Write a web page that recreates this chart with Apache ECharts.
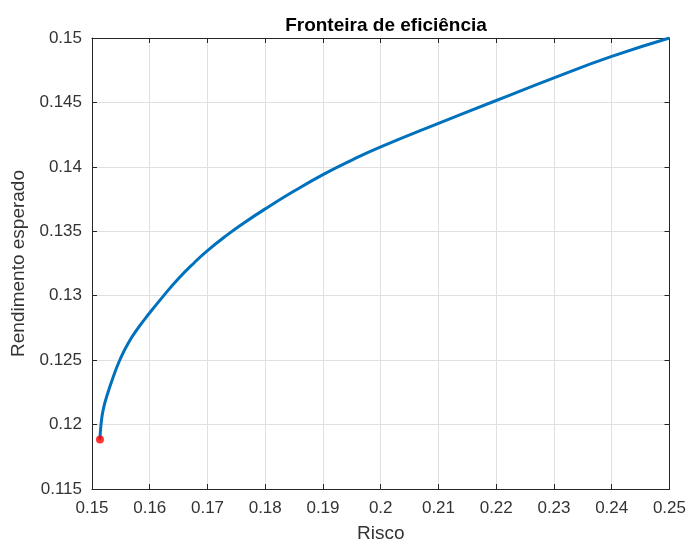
<!DOCTYPE html>
<html>
<head>
<meta charset="utf-8">
<script src="https://cdn.jsdelivr.net/npm/echarts@6/dist/echarts.min.js"></script>
<style>
html,body{margin:0;padding:0;background:#fff;}
#chart{width:689px;height:548px;}
</style>
</head>
<body>
<div id="chart"></div>
<script>
const titleText = 'Fronteira de eficiência';
const xName = 'Risco';
const yName = 'Rendimento esperado';

const risk = [0.15138, 0.15156, 0.15196, 0.15275, 0.15372, 0.15484, 0.15627, 0.15800, 0.15990,
              0.16231, 0.16491, 0.16779, 0.17000, 0.17354, 0.17585, 0.18000, 0.18500, 0.19000,
              0.19500, 0.20000, 0.21000, 0.22000, 0.23000, 0.24000, 0.25000];
const expectedReturn = [0.11884, 0.12000, 0.12120, 0.12247, 0.12375, 0.12503, 0.12631, 0.12750, 0.12862,
              0.12995, 0.13130, 0.13260, 0.13350, 0.13476, 0.13551, 0.13674, 0.13812, 0.13940,
              0.14053, 0.14155, 0.14338, 0.14515, 0.14691, 0.14857, 0.15000];

const minVariancePoint = [0.15138, 0.11884];

const xTicks = [0.15, 0.16, 0.17, 0.18, 0.19, 0.2, 0.21, 0.22, 0.23, 0.24, 0.25];
const yTicks = [0.115, 0.12, 0.125, 0.13, 0.135, 0.14, 0.145, 0.15];

const FONT = '"Liberation Sans", Arial, Helvetica, sans-serif';
const AX = '#262626';
const TXT = '#333333';

const lineData = risk.map((r, i) => [r, expectedReturn[i]]);

const xStep = +(xTicks[1] - xTicks[0]).toFixed(6);
const yStep = +(yTicks[1] - yTicks[0]).toFixed(6);

function fmt(v) { return String(+v.toFixed(4)); }

const chart = echarts.init(document.getElementById('chart'), null, {renderer: 'canvas'});
chart.setOption({
  backgroundColor: '#ffffff',
  animation: false,
  title: {
    text: titleText,
    left: 381,
    textAlign: 'center',
    top: 11,
    textStyle: {fontFamily: FONT, fontSize: 19, fontWeight: 'bold', color: '#000'}
  },
  grid: {left: 92, right: 18, top: 38, bottom: 54},
  xAxis: [{
    type: 'value',
    min: xTicks[0], max: xTicks[xTicks.length - 1], interval: xStep,
    name: xName, nameLocation: 'middle', nameGap: 35,
    nameTextStyle: {fontFamily: FONT, fontSize: 19, color: TXT},
    axisLine: {show: true, onZero: false, lineStyle: {color: AX, width: 1}},
    axisTick: {show: true, inside: true, length: 5, lineStyle: {color: AX}},
    axisLabel: {fontFamily: FONT, fontSize: 17, color: TXT, margin: 11, formatter: fmt},
    splitLine: {show: true, lineStyle: {color: '#e0e0e0', width: 1}}
  }, {
    type: 'value', position: 'top',
    min: xTicks[0], max: xTicks[xTicks.length - 1], interval: xStep,
    axisLine: {show: true, onZero: false, lineStyle: {color: AX, width: 1}},
    axisTick: {show: true, inside: true, length: 5, lineStyle: {color: AX}},
    axisLabel: {show: false},
    splitLine: {show: false}
  }],
  yAxis: [{
    type: 'value',
    min: yTicks[0], max: yTicks[yTicks.length - 1], interval: yStep,
    name: yName, nameLocation: 'middle', nameGap: 61,
    nameTextStyle: {fontFamily: FONT, fontSize: 19, color: TXT},
    axisLine: {show: true, onZero: false, lineStyle: {color: AX, width: 1}},
    axisTick: {show: true, inside: true, length: 5, lineStyle: {color: AX}},
    axisLabel: {fontFamily: FONT, fontSize: 17, color: TXT, margin: 10, formatter: fmt},
    splitLine: {show: true, lineStyle: {color: '#e0e0e0', width: 1}}
  }, {
    type: 'value', position: 'right',
    min: yTicks[0], max: yTicks[yTicks.length - 1], interval: yStep,
    axisLine: {show: true, onZero: false, lineStyle: {color: AX, width: 1}},
    axisTick: {show: true, inside: true, length: 5, lineStyle: {color: AX}},
    axisLabel: {show: false},
    splitLine: {show: false}
  }],
  series: [{
    type: 'line',
    xAxisIndex: 0, yAxisIndex: 0,
    data: lineData,
    showSymbol: false,
    smooth: 0.5,
    lineStyle: {color: '#0072BD', width: 3},
    z: 2
  }, {
    type: 'scatter',
    xAxisIndex: 0, yAxisIndex: 0,
    data: [minVariancePoint],
    symbol: 'circle',
    symbolSize: 8,
    itemStyle: {color: '#ff0000'},
    z: 3
  }]
});
</script>
</body>
</html>
